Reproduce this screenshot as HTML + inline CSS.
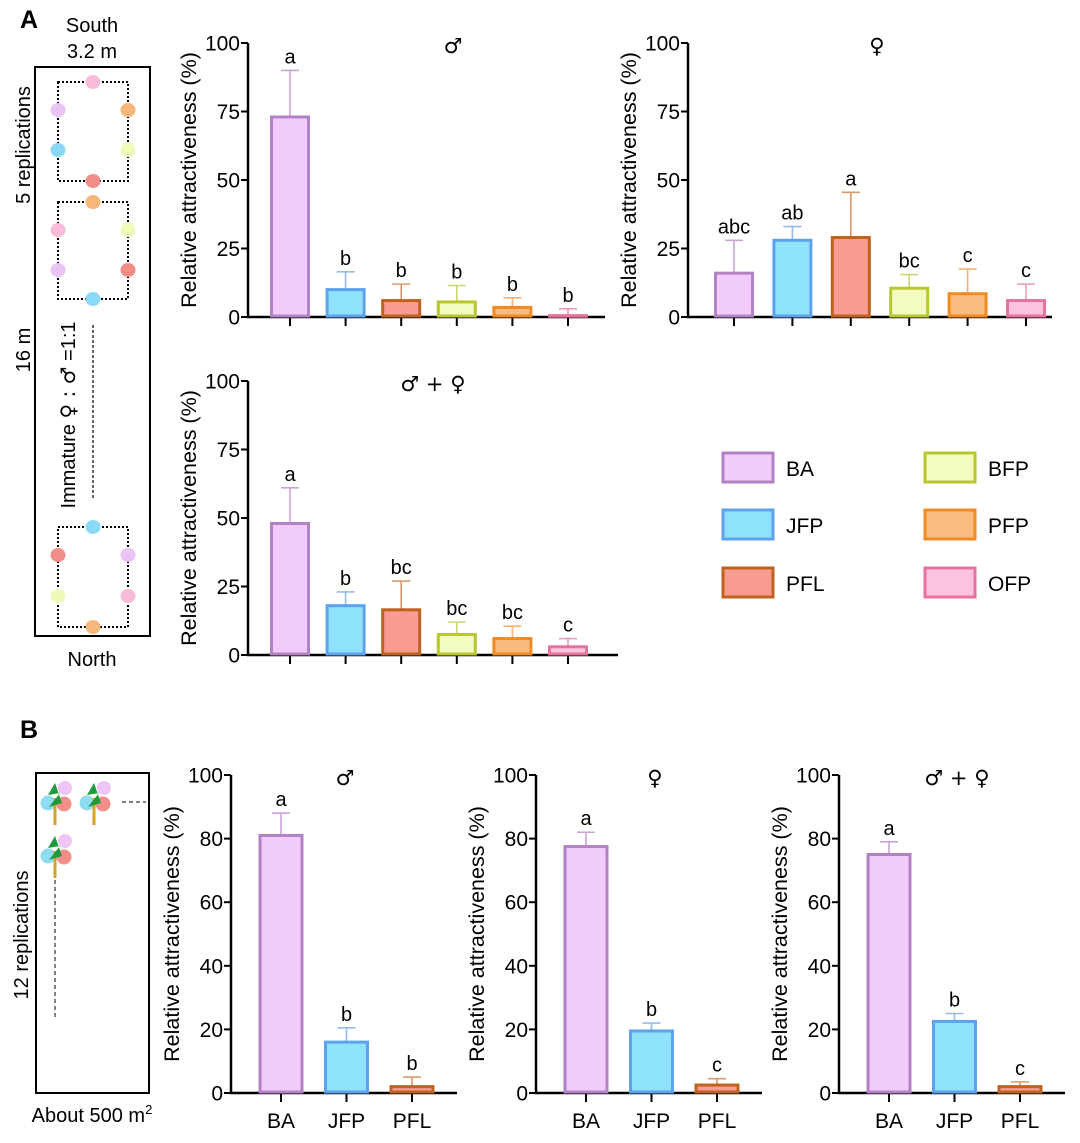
<!DOCTYPE html>
<html><head><meta charset="utf-8"><style>
body{margin:0;background:#fff;width:1080px;height:1138px;overflow:hidden}
svg{font-family:"Liberation Sans","DejaVu Sans",sans-serif}
</style></head><body>
<svg id="fig" width="1080" height="1138" viewBox="0 0 1080 1138" xmlns="http://www.w3.org/2000/svg">
<text x="20" y="28" font-size="25" font-weight="bold">A</text>
<text x="20" y="738" font-size="25" font-weight="bold">B</text>
<g font-size="20">
<text x="92" y="32" text-anchor="middle">South</text>
<text x="92" y="58" text-anchor="middle">3.2 m</text>
<text x="92" y="666" text-anchor="middle">North</text>
<rect x="35" y="67" width="115" height="569" fill="none" stroke="#000" stroke-width="2"/>
<text transform="translate(30,145) rotate(-90)" text-anchor="middle">5 replications</text>
<text transform="translate(30,350) rotate(-90)" text-anchor="middle">16 m</text>
<text transform="translate(75,415) rotate(-90)" text-anchor="middle">Immature <tspan font-family="DejaVu Sans">♀ : ♂</tspan> =1:1</text>
<line x1="93" y1="325" x2="93" y2="500" stroke="#000" stroke-dasharray="3,2" stroke-width="1.2"/>
<g fill="none" stroke="#000" stroke-width="2" stroke-dasharray="2,2">
<rect x="58" y="82" width="70" height="99"/><rect x="58" y="202" width="70" height="97"/><rect x="58" y="527" width="70" height="100"/>
</g>
<g id="dotsA"></g>
</g>
<g font-size="20">
<rect x="36" y="773" width="113" height="320" fill="none" stroke="#000" stroke-width="2"/>
<text transform="translate(28,935) rotate(-90)" text-anchor="middle">12 replications</text>
<text x="92" y="1122" text-anchor="middle">About 500 m<tspan font-size="13" dy="-8">2</tspan></text>
<line x1="122" y1="802" x2="146" y2="802" stroke="#000" stroke-dasharray="4,3"/>
<line x1="55" y1="880" x2="55" y2="1018" stroke="#000" stroke-dasharray="4,3"/>
<g id="trees"></g>
</g>
<g id="charts"></g>
<g font-size="21" id="legend"></g>
</svg>
<script>
const cats6=["BA","JFP","PFL","BFP","PFP","OFP"];
const cats3=["BA","JFP","PFL"];
const fills={BA:"#f1cbf9",JFP:"#8fe2fb",PFL:"#f89c92",BFP:"#f2fbc0",PFP:"#f9bc7e",OFP:"#fbc3e0"};
const strokes={BA:"#b382c4",JFP:"#5ea2ee",PFL:"#c0621f",BFP:"#bac631",PFP:"#f08a22",OFP:"#e8729e"};
const errc={BA:"#c9a3d6",JFP:"#96baf0",PFL:"#d99a6a",BFP:"#ccd670",PFP:"#f3b27a",OFP:"#ee9ab9"};
const dotc={BA:"#e9c4f5",JFP:"#8ad9f7",PFL:"#f28e88",BFP:"#f0f9b8",PFP:"#f6b77c",OFP:"#f8bcd9"};
const a1Vals=[73,10,6,5.5,3.5,0.5], a1Err=[90,16.5,12,11.5,7,3], a1Let=["a","b","b","b","b","b"];
const a2Vals=[16,28,29,10.5,8.5,6], a2Err=[28,33,45.5,15.5,17.5,12], a2Let=["abc","ab","a","bc","c","c"];
const a3Vals=[48,18,16.5,7.5,6,3], a3Err=[61,23,27,12,10.5,6], a3Let=["a","b","bc","bc","bc","c"];
const b1Vals=[81,16,2], b1Err=[88,20.5,5], b1Let=["a","b","b"];
const b2Vals=[77.5,19.5,2.5], b2Err=[82,22,4.5], b2Let=["a","b","c"];
const b3Vals=[75,22.5,2], b3Err=[79,25,3.5], b3Let=["a","b","c"];
const ticksA=[0,25,50,75,100], ticksB=[0,20,40,60,80,100];
const NS="http://www.w3.org/2000/svg";
function mk(p,t,a,txt){const e=document.createElementNS(NS,t);for(const k in a)e.setAttribute(k,a[k]);if(txt!==undefined)e.textContent=txt;p.appendChild(e);return e;}
const root=document.getElementById('charts');
function chart(o){
 const g=mk(root,'g',{});
 
 
 const y=v=>o.y0-(v/100)*(o.y0-o.y100);
 const x=i=>o.x0+i*o.step;
 mk(g,'line',{x1:o.ax,y1:o.y100,x2:o.ax,y2:o.y0+1,stroke:'#000','stroke-width':2.5});
 mk(g,'line',{x1:o.ax-1,y1:o.y0,x2:o.xend,y2:o.y0,stroke:'#000','stroke-width':2.5});
 o.ticks.forEach(t=>{mk(g,'line',{x1:o.ax-7,y1:y(t),x2:o.ax,y2:y(t),stroke:'#000','stroke-width':2});
  const l=mk(g,'text',{x:o.ax-8,y:y(t)+7.5,'text-anchor':'end','font-size':21},t);
  });
 const yl=mk(g,'text',{transform:`translate(${o.ax-52},${(o.y0+o.y100)/2}) rotate(-90)`,'text-anchor':'middle','font-size':21.5},'Relative attractiveness (%)');
 
 const tt=mk(g,'text',{x:o.tx,y:o.y100+10,'text-anchor':'middle','font-size':21,'font-family':'DejaVu Sans'},o.title);
 
 o.cats.forEach((c,i)=>{
  const cx=x(i),w=o.bw;
  mk(g,'line',{x1:cx,y1:o.y0,x2:cx,y2:o.y0+9,stroke:'#000','stroke-width':2});
  mk(g,'line',{x1:cx,y1:y(o.vals[i]),x2:cx,y2:y(o.err[i]),stroke:errc[c],'stroke-width':1.6});
  mk(g,'line',{x1:cx-9,y1:y(o.err[i]),x2:cx+9,y2:y(o.err[i]),stroke:errc[c],'stroke-width':1.6});
  const b=mk(g,'rect',{x:cx-w/2,y:y(o.vals[i]),width:w,height:Math.max(o.y0-y(o.vals[i])-1,0.5),fill:fills[c],stroke:strokes[c],'stroke-width':3});
  
  const lt=mk(g,'text',{x:cx,y:y(o.err[i])-7,'text-anchor':'middle','font-size':20},o.lets[i]);
  
  if(o.xlabels){const xl=mk(g,'text',{x:cx,y:o.y0+35,'text-anchor':'middle','font-size':21},c);
   }
 });
}
const stepA=55.6;
chart({name:'chart-a-male',ax:248,y0:317,y100:43,x0:290,step:stepA,bw:37,xend:605,cats:cats6,vals:a1Vals,err:a1Err,lets:a1Let,ticks:ticksA,title:'♂',tx:453});
chart({name:'chart-a-female',ax:688,y0:317,y100:43,x0:734,step:58.4,bw:37,xend:1052,cats:cats6,vals:a2Vals,err:a2Err,lets:a2Let,ticks:ticksA,title:'♀',tx:877});
chart({name:'chart-a-both',ax:248,y0:655,y100:381,x0:290,step:stepA,bw:37,xend:618,cats:cats6,vals:a3Vals,err:a3Err,lets:a3Let,ticks:ticksA,title:'♂ + ♀',tx:433});
chart({name:'chart-b-male',ax:231,y0:1093,y100:775,x0:281,step:65.5,bw:42,xend:457,cats:cats3,vals:b1Vals,err:b1Err,lets:b1Let,ticks:ticksB,title:'♂',tx:345,xlabels:true});
chart({name:'chart-b-female',ax:536,y0:1093,y100:775,x0:586,step:65.5,bw:42,xend:762,cats:cats3,vals:b2Vals,err:b2Err,lets:b2Let,ticks:ticksB,title:'♀',tx:655,xlabels:true});
chart({name:'chart-b-both',ax:839,y0:1093,y100:775,x0:889,step:65.5,bw:42,xend:1065,cats:cats3,vals:b3Vals,err:b3Err,lets:b3Let,ticks:ticksB,title:'♂ + ♀',tx:957,xlabels:true});
const lg=document.getElementById('legend');
const legPos=[["BA",723,453],["JFP",723,510],["PFL",723,568],["BFP",925,453],["PFP",925,510],["OFP",925,568]];
legPos.forEach(([c,lx,ly])=>{
 const e=mk(lg,'g',{});
 
 
 mk(e,'rect',{x:lx,y:ly,width:50,height:29,fill:fills[c],stroke:strokes[c],'stroke-width':3});
 mk(e,'text',{x:lx+63,y:ly+23,'font-size':21},c);
});
const dA=document.getElementById('dotsA');
[[93,82,"OFP"],[58,110,"BA"],[128,110,"PFP"],[58,150,"JFP"],[128,150,"BFP"],[93,181,"PFL"],
 [93,202,"PFP"],[58,230,"OFP"],[128,230,"BFP"],[58,270,"BA"],[128,270,"PFL"],[93,299,"JFP"],
 [93,527,"JFP"],[58,555,"PFL"],[128,555,"BA"],[58,596,"BFP"],[128,596,"OFP"],[93,627,"PFP"]].forEach(([cx,cy,c])=>{
 mk(dA,'ellipse',{cx:cx,cy:cy,rx:7.5,ry:7,fill:dotc[c]});
});
const tr=document.getElementById('trees');
[[55,803],[94,803],[55,856]].forEach(([tx,ty])=>{
 mk(tr,'circle',{cx:tx+10,cy:ty-15,r:7,fill:'#efc4f7'});
 mk(tr,'circle',{cx:tx-7,cy:ty,r:7.5,fill:'#8edcf4'});
 mk(tr,'circle',{cx:tx+9,cy:ty+1,r:7.5,fill:'#f38f88'});
 mk(tr,'line',{x1:tx,y1:ty-5,x2:tx,y2:ty+22,stroke:'#d4a22a','stroke-width':3});
 mk(tr,'polygon',{points:`${tx},${ty-20} ${tx-7},${ty-8} ${tx+5},${ty-10} ${tx-6},${ty+4} ${tx+7},${ty}`,fill:'#1f9a3a'});
});
</script>
</body></html>
